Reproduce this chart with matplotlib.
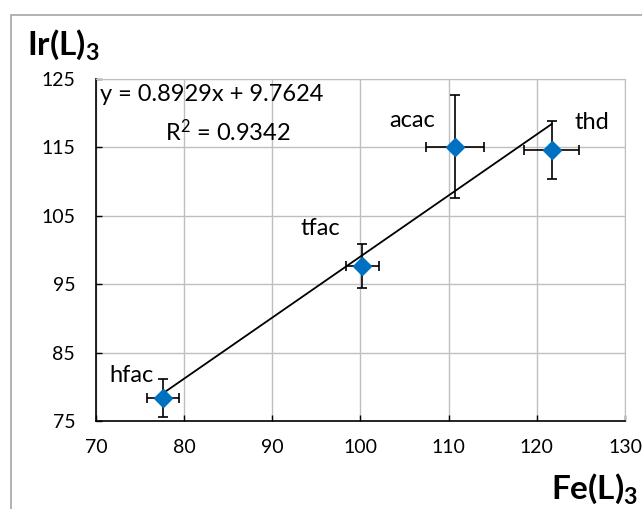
import matplotlib
matplotlib.use("Agg")
import matplotlib.pyplot as plt
from matplotlib.patches import Rectangle
import numpy as np

plt.rcParams['font.family'] = ['Lato', 'DejaVu Sans']
plt.rcParams['mathtext.fontset'] = 'custom'
plt.rcParams['mathtext.rm'] = 'Lato'
plt.rcParams['mathtext.it'] = 'Lato:italic'
plt.rcParams['mathtext.bf'] = 'Lato:bold'

labels = ["hfac", "tfac", "acac", "thd"]
fe_vals = [77.6, 100.2, 110.7, 121.7]
ir_vals = [78.4, 97.7, 115.1, 114.6]
fe_err = [1.8, 1.9, 3.3, 3.1]
ir_err = [2.8, 3.2, 7.5, 4.2]
slope = 0.8929
intercept = 9.7624
r2 = 0.9342
x_ticks = [70, 80, 90, 100, 110, 120, 130]
y_ticks = [75, 85, 95, 105, 115, 125]

fig = plt.figure(figsize=(6.42, 5.09), dpi=100)
# outer chart frame (extends past right/bottom)
fig.patches.append(Rectangle((11/642, -0.1), 1.2, 1 - 15/509 + 0.1, transform=fig.transFigure,
                             fill=False, edgecolor='#a6a6a6', linewidth=1.2, zorder=0))

ax = fig.add_axes([96/642, 88/509, 529/642, 342/509])
ax.set_xlim(70, 130)
ax.set_ylim(75, 125)
ax.set_xticks(x_ticks)
ax.set_yticks(y_ticks)
ax.grid(True, color='#bfbfbf', linewidth=1.0)
ax.set_axisbelow(True)
for s in ['top', 'right']:
    ax.spines[s].set_color('#bfbfbf')
for s in ['left', 'bottom']:
    ax.spines[s].set_color('black')
    ax.spines[s].set_linewidth(1.2)
ax.tick_params(direction='in', length=4, width=1, labelsize=14)
ax.tick_params(axis='x', pad=13)
ax.tick_params(axis='y', pad=15)

# trendline
xs = np.array([min(fe_vals), max(fe_vals)])
ax.plot(xs, slope * xs + intercept, color='black', linewidth=1.3, zorder=2)

ax.errorbar(fe_vals, ir_vals, xerr=fe_err, yerr=ir_err, fmt='D', color='#0070c0',
            markersize=9, ecolor='black', elinewidth=1.2, capsize=3.5, capthick=1.2, zorder=3)

label_pos = {"hfac": (-3.6, 3.3), "tfac": (-4.8, 5.4), "acac": (-4.8, 3.9), "thd": (4.5, 4.0)}
for lab, x, y in zip(labels, fe_vals, ir_vals):
    dx, dy = label_pos[lab]
    ax.text(x + dx, y + dy, lab, fontsize=17, ha='center', va='center')

ax.text(0.008, 0.985, f"y = {slope}x + {intercept}", transform=ax.transAxes,
        fontsize=17, ha='left', va='top')
ax.text(0.13, 0.885, "R$^{2}$" + f" = {r2}", transform=ax.transAxes,
        fontsize=17, ha='left', va='top')

fig.text(27/642, 1 - 45/509, "Ir(L)$_\\mathbf{3}$", fontsize=24, fontweight='bold', ha='left', va='center')
fig.text(638/642, 1 - 489/509, "Fe(L)$_\\mathbf{3}$", fontsize=24, fontweight='bold', ha='right', va='center')

fig.savefig("out.png", dpi=100)
